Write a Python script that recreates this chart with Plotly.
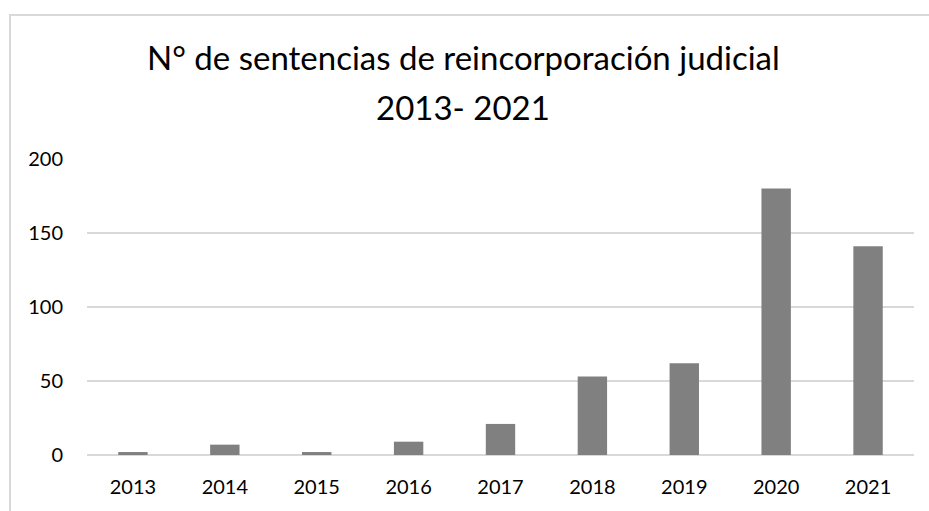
import plotly.graph_objects as go

years = ["2013", "2014", "2015", "2016", "2017", "2018", "2019", "2020", "2021"]
sentencias = [2, 7, 2, 9, 21, 53, 62, 180, 141]
y_ticks = [0, 50, 100, 150, 200]
title_lines = ["N° de sentencias de reincorporación judicial", "2013- 2021"]

W, H = 929, 511
L, R, T, B = 87, 15, 159, 56
pw, ph = W - L - R, H - T - B


def py(y_px):
    """screen pixel y -> paper coordinate"""
    return (H - B - y_px) / ph


def px(x_px):
    return (x_px - L) / pw


fig = go.Figure()
fig.add_trace(go.Bar(x=years, y=sentencias, marker=dict(color="#808080", line=dict(width=0)),
                     hoverinfo="x+y"))

fig.update_layout(
    width=W, height=H,
    margin=dict(l=L, r=R, t=T, b=B, pad=0),
    paper_bgcolor="white", plot_bgcolor="white",
    bargap=0.68,
    showlegend=False,
    font=dict(family="Lato, Carlito, sans-serif", color="#000000"),
    xaxis=dict(type="category", showgrid=False, zeroline=False, showline=False,
               ticks="", tickfont=dict(size=20), ticklabelstandoff=18),
    yaxis=dict(range=[0, 200], tickvals=y_ticks, showgrid=True, gridcolor="#d9d9d9",
               gridwidth=1.5, zeroline=True, zerolinecolor="#d9d9d9", zerolinewidth=1.5,
               showline=False, ticks="", tickfont=dict(size=20), ticklabelstandoff=23),
    annotations=[
        dict(text=title_lines[0], xref="paper", yref="paper", x=px(463), y=py(57),
             xanchor="center", yanchor="middle", showarrow=False,
             font=dict(size=33, family="Lato, sans-serif", color="#000000")),
        dict(text=title_lines[1], xref="paper", yref="paper", x=px(463), y=py(107),
             xanchor="center", yanchor="middle", showarrow=False,
             font=dict(size=33, family="Lato, sans-serif", color="#000000")),
    ],
    shapes=[dict(type="rect", xref="paper", yref="paper",
                 x0=px(10), x1=px(W + 20),
                 y0=py(H + 20), y1=py(15),
                 line=dict(color="#d9d9d9", width=2), fillcolor="rgba(0,0,0,0)", layer="below")],
)

fig.write_html("out.html", config={"displayModeBar": False},
               post_script="document.body.style.margin='0';document.body.style.overflow='hidden';")
